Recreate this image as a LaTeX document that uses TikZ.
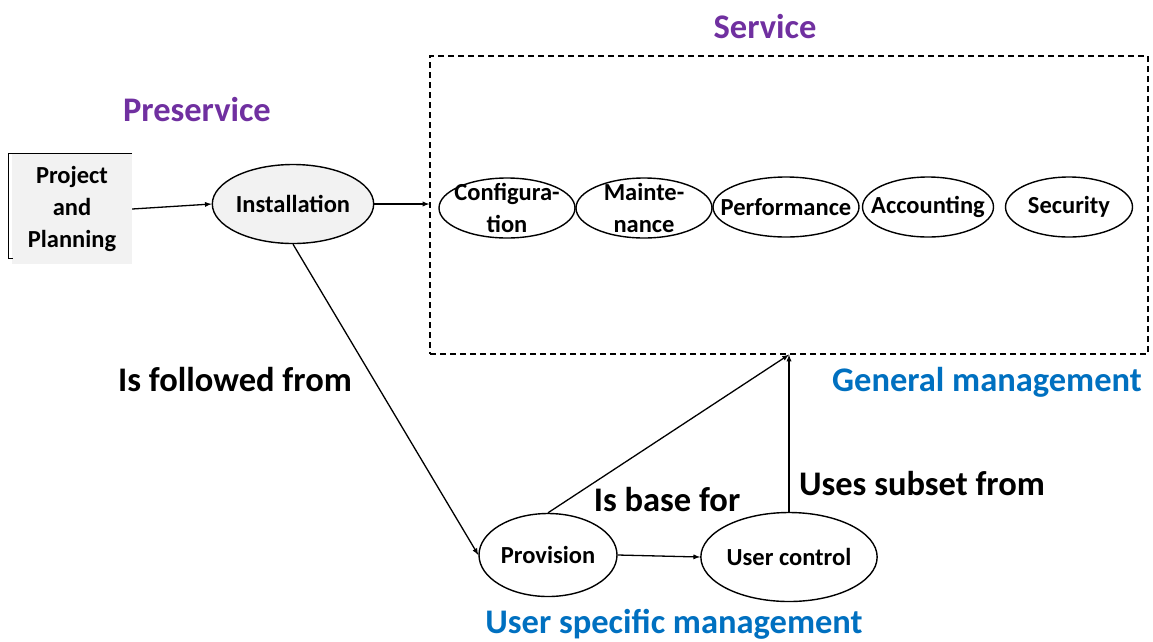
\documentclass[tikz,border=0pt]{standalone}
\usepackage{fontspec}
\setmainfont{Carlito}
\usepackage{xcolor}
\usetikzlibrary{shapes.geometric,arrows,positioning}
\definecolor{purpleph}{HTML}{7030A0}
\definecolor{bluemg}{HTML}{0070C0}
\tikzset{
  txt/.style={align=center, inner sep=0pt, font=\bfseries\fontsize{24.5}{32}\selectfont},
  stage/.style={ellipse, draw, line width=1.4pt, inner sep=0pt, align=center, font=\bfseries\fontsize{24.5}{32}\selectfont},
  svc/.style={ellipse, draw, line width=1.4pt, inner sep=0pt, minimum height=60, minimum width=#1},
  planbox/.style={rectangle, fill=gray!10, inner sep=0pt, align=center, font=\bfseries\fontsize{24.5}{32}\selectfont},
  frame/.style={rectangle, draw, dashed, dash pattern=on 6pt off 4pt, line width=1.3pt, inner sep=0pt},
  head/.style={font=\bfseries\fontsize{34.5}{40}\selectfont},
  link/.style={font=\bfseries\fontsize{34.5}{40}\selectfont},
  conn/.style={->, line width=1.3pt}
}
\begin{document}
\begin{tikzpicture}[x=1pt,y=-1pt,>=latex]
\useasboundingbox (0,0) rectangle (1153,641);
% preservice
\node[planbox, minimum width=120, minimum height=110] (plan) at (72,209) {Project\\and\\Planning};
\draw[line width=1.3pt] (plan.north east) -- ([xshift=-3]plan.north west) -- ([xshift=-3,yshift=6]plan.south west) -- ([xshift=1,yshift=6]plan.south west);
\node[stage, fill=gray!10, minimum width=155, minimum height=79] (inst) at (293,204) {Installation};
\node[head, purpleph] (pre) at (197,110) {Preservice};
% service
\node[frame, minimum width=718, minimum height=298] (srv) at (789,205) {};
\node[head, purpleph] (srvlab) at (765,27) {Service};
\node[svc=136, label={[txt]center:{Configura-\\tion}}] (conf) at (507,208) {};
\node[svc=136, label={[txt]center:{Mainte-\\nance}}] (maint) at (644,208) {};
\node[svc=146, label={[txt]center:Performance}] (perf) at (786,207) {};
\node[svc=131, label={[txt]center:Accounting}] (acct) at (928,207) {};
\node[svc=127, label={[txt]center:Security}] (sec) at (1069,207) {};
\node[head, bluemg] (gen) at (987,382) {General management};
% user specific
\node[stage, minimum width=138, minimum height=83] (prov) at (548,555) {Provision};
\node[stage, minimum width=166, minimum height=89] (uc) at (789,557) {User control};
\node[head, bluemg] (usm) at (674,624) {User specific management};
\coordinate (gm) at (uc.north |- srv.south);
% connectors
\draw[conn] (plan.east) -- (inst.west);
\draw[conn] (inst.east) -- (srv.west |- inst.east);
\draw[conn] (inst.south) -- (prov.west);
\draw[conn] (prov.east) -- (uc.west);
\draw[conn] (prov.north) -- (gm);
\draw[conn] (uc.north) -- (gm);
\node[link] (follow) at (235,380) {Is followed from};
\node[link] (base) at (667,500) {Is base for};
\node[link] (subset) at (922,484) {Uses subset from};
\end{tikzpicture}
\end{document}
